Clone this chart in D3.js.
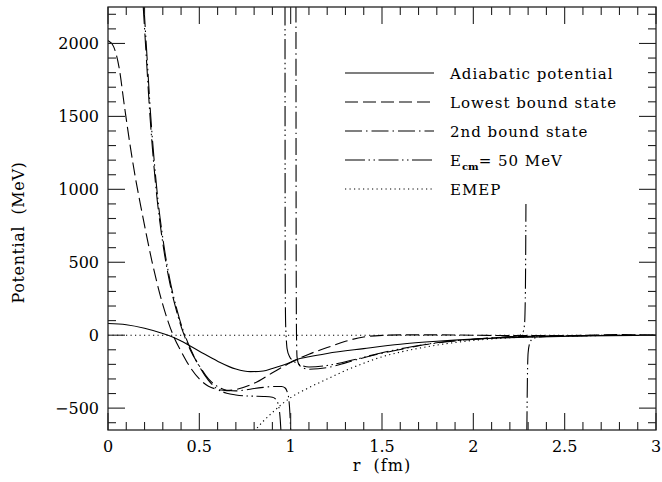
<!DOCTYPE html>
<html>
<head>
<meta charset="utf-8">
<script src="https://cdn.jsdelivr.net/npm/d3@7"></script>
<style>
  body { margin: 0; background: #fff; }
  text { font-family: "DejaVu Serif", serif; fill: #000; }
</style>
</head>
<body>
<div id="chart"></div>
<script>
// values, r in fm, V in MeV
const adiabatic = [[0,80],[0.1,72],[0.2,48],[0.3,12],[0.35,-10],[0.4,-40],[0.5,-110],[0.6,-178],[0.7,-232],[0.78,-250],[0.85,-245],[0.9,-228],[1.0,-185],[1.03,-168],[1.1,-148],[1.2,-125],[1.4,-92],[1.6,-62],[1.8,-42],[2.0,-27],[2.3,-13],[2.6,-5],[3.0,-1]];
const lowestBound = [[0,2020],[0.03,1980],[0.06,1840],[0.09,1570],[0.12,1310],[0.15,1080],[0.18,880],[0.21,690],[0.24,510],[0.27,350],[0.30,210],[0.33,90],[0.36,-10],[0.40,-110],[0.45,-220],[0.50,-300],[0.55,-350],[0.60,-372],[0.65,-380],[0.70,-372],[0.80,-330],[0.90,-258],[1.00,-188],[1.10,-130],[1.20,-85],[1.30,-42],[1.40,-12],[1.50,-1],[1.60,2],[1.80,2],[2.0,0],[2.2,-3],[2.5,-3],[2.8,4],[3.0,0]];
const secondBoundLeft = [[0.193,2250],[0.21,1900],[0.23,1500],[0.25,1180],[0.27,920],[0.29,720],[0.31,550],[0.33,410],[0.35,290],[0.37,190],[0.39,100],[0.42,-10],[0.45,-100],[0.5,-210],[0.55,-300],[0.6,-352],[0.65,-378],[0.7,-382],[0.75,-376],[0.8,-366],[0.85,-358],[0.9,-352],[0.95,-352],[0.97,-362],[0.98,-385],[0.99,-440],[0.996,-540],[1.0,-660]];
const secondBoundRight = [[1.029,2260],[1.030,600],[1.032,0],[1.035,-150],[1.045,-200],[1.07,-225],[1.1,-233],[1.15,-230],[1.2,-222],[1.3,-190],[1.36,-168],[1.5,-124],[1.6,-98],[1.73,-66],[1.9,-40],[2.09,-20],[2.3,-8],[2.6,-3],[3.0,0]];
const ecmLeft = [[0.197,2250],[0.214,1900],[0.234,1500],[0.254,1180],[0.274,920],[0.294,720],[0.314,550],[0.334,410],[0.354,290],[0.374,190],[0.394,100],[0.424,-10],[0.454,-100],[0.5,-215],[0.55,-310],[0.6,-370],[0.65,-398],[0.7,-410],[0.75,-416],[0.8,-418],[0.85,-420],[0.9,-425],[0.92,-442],[0.935,-490],[0.943,-580],[0.947,-660]];
const ecmMid = [[0.969,2260],[0.970,500],[0.972,100],[0.975,0],[0.98,-90],[0.995,-150],[1.01,-172],[1.03,-190],[1.06,-208],[1.1,-218],[1.2,-208],[1.3,-182],[1.4,-152],[1.5,-120],[1.6,-94],[1.73,-64],[1.9,-38],[2.0,-28],[2.1,-18],[2.2,-10],[2.25,-3],[2.27,15],[2.28,70],[2.285,300],[2.288,900]];
const ecmRight = [[2.293,-660],[2.296,-300],[2.3,-120],[2.31,-50],[2.33,-20],[2.4,-8],[2.6,-3],[2.8,0],[3.0,0]];
const emep = [[0.80,-660],[0.85,-590],[0.9,-530],[0.95,-475],[1.0,-428],[1.1,-360],[1.2,-300],[1.3,-243],[1.4,-192],[1.5,-148],[1.6,-116],[1.7,-90],[1.8,-68],[2.0,-36],[2.2,-18],[2.5,-6],[3.0,0]];
const zeroLine = [[0,0],[3,0]];

const xMajor = [0, 0.5, 1, 1.5, 2, 2.5, 3];
const xLabels = ["0", "0.5", "1", "1.5", "2", "2.5", "3"];
const yMajor = [-500, 0, 500, 1000, 1500, 2000];
const yLabels = ["\u2212500", "0", "500", "1000", "1500", "2000"];

const legendNames = ["Adiabatic potential", "Lowest bound state", "2nd bound state", "E_cm= 50 MeV", "EMEP"];

const W = 662, H = 482;
const margin = {left: 108, right: 6, top: 7, bottom: 52};
const pw = W - margin.left - margin.right;
const ph = H - margin.top - margin.bottom;

const x = d3.scaleLinear().domain([0, 3]).range([0, pw]);
const y = d3.scaleLinear().domain([-650, 2250]).range([ph, 0]);

const dashes = {
    solid: null,
    dashed: "13,5",
    dashdot: "17,4,1.5,4",
    dashdotdot: "20,3.5,1.5,3.5,1.5,3.5",
    dotted: "1.2,3.3"
};

const svg = d3.select("#chart").append("svg")
    .attr("width", W).attr("height", H);

svg.append("defs").append("clipPath").attr("id", "clip")
    .append("rect").attr("width", pw).attr("height", ph);

const g = svg.append("g").attr("transform", `translate(${margin.left},${margin.top})`);

const line = d3.line().x(d => x(d[0])).y(d => y(d[1])).curve(d3.curveMonotoneX);

const curves = [
    {data: zeroLine, style: "dotted"},
    {data: emep, style: "dotted"},
    {data: adiabatic, style: "solid"},
    {data: lowestBound, style: "dashed"},
    {data: secondBoundLeft, style: "dashdot"},
    {data: secondBoundRight, style: "dashdot"},
    {data: ecmLeft, style: "dashdotdot"},
    {data: ecmMid, style: "dashdotdot"},
    {data: ecmRight, style: "dashdotdot"}
];

const plot = g.append("g").attr("clip-path", "url(#clip)");
plot.selectAll("path.curve")
    .data(curves)
    .enter().append("path")
    .attr("class", "curve")
    .attr("d", d => line(d.data))
    .attr("fill", "none")
    .attr("stroke", "#000")
    .attr("stroke-width", 1.1)
    .attr("stroke-dasharray", d => dashes[d.style]);

// frame and ticks on all four sides
const axisColor = "#222";
const xMinor = d3.range(0, 31).map(i => i / 10);
const yMinor = d3.range(-6, 23).map(i => i * 100);
const bigTick = 17, smallTick = 8;

g.append("rect").attr("width", pw).attr("height", ph)
    .attr("fill", "none").attr("stroke", axisColor).attr("stroke-width", 1.3);

const ticks = g.append("g").attr("stroke", axisColor).attr("stroke-width", 1.1);
xMinor.forEach(v => {
    const len = xMajor.some(m => Math.abs(m - v) < 1e-9) ? bigTick : smallTick;
    ticks.append("line").attr("x1", x(v)).attr("x2", x(v)).attr("y1", ph).attr("y2", ph - len);
    ticks.append("line").attr("x1", x(v)).attr("x2", x(v)).attr("y1", 0).attr("y2", len);
});
yMinor.forEach(v => {
    const len = yMajor.includes(v) ? bigTick : smallTick;
    ticks.append("line").attr("x1", 0).attr("x2", len).attr("y1", y(v)).attr("y2", y(v));
    ticks.append("line").attr("x1", pw).attr("x2", pw - len).attr("y1", y(v)).attr("y2", y(v));
});

g.selectAll("text.xl").data(xMajor).enter().append("text")
    .attr("class", "xl")
    .attr("x", d => x(d)).attr("y", ph + 22)
    .attr("text-anchor", "middle").attr("font-size", 16)
    .text((d, i) => xLabels[i]);

g.selectAll("text.yl").data(yMajor).enter().append("text")
    .attr("class", "yl")
    .attr("x", -9).attr("y", d => y(d) + 6)
    .attr("text-anchor", "end").attr("font-size", 16)
    .text((d, i) => yLabels[i]);

svg.append("text")
    .attr("x", margin.left + pw / 2).attr("y", H - 11)
    .attr("text-anchor", "middle").attr("font-size", 16)
    .attr("letter-spacing", 1)
    .attr("xml:space", "preserve")
    .text("r  (fm)");

svg.append("text")
    .attr("transform", `translate(24,${margin.top + ph / 2 + 14}) rotate(-90)`)
    .attr("text-anchor", "middle").attr("font-size", 16)
    .attr("letter-spacing", 0.6)
    .attr("xml:space", "preserve")
    .text("Potential  (MeV)");

// legend
const legendStyles = ["solid", "dashed", "dashdot", "dashdotdot", "dotted"];
const legend = svg.append("g").attr("transform", "translate(345,73)");
legendNames.forEach((name, i) => {
    const row = legend.append("g").attr("transform", `translate(0,${i * 29})`);
    row.append("line").attr("x1", 0).attr("x2", 89).attr("y1", 0).attr("y2", 0)
        .attr("stroke", "#000").attr("stroke-width", 1.1)
        .attr("stroke-dasharray", dashes[legendStyles[i]]);
    const t = row.append("text").attr("x", 105).attr("y", 6).attr("font-size", 15)
        .attr("letter-spacing", 1);
    if (name.startsWith("E_cm")) {
        t.append("tspan").text("E");
        t.append("tspan").attr("dy", 4).attr("font-size", 10).attr("font-weight", "bold")
            .attr("letter-spacing", 0).text("cm");
        t.append("tspan").attr("dy", -4).text(name.slice(4));
    } else {
        t.text(name);
    }
});
</script>
</body>
</html>
